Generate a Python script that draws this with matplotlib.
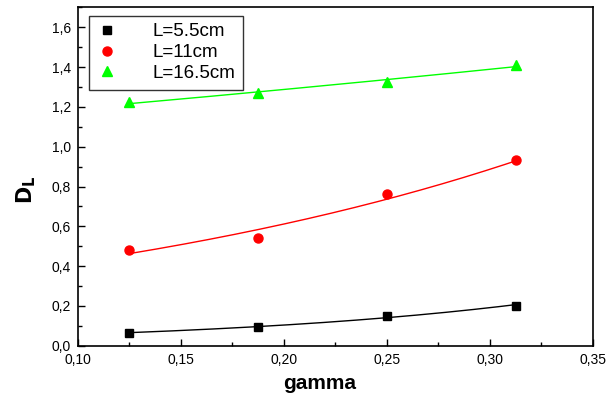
import numpy as np
import matplotlib
matplotlib.use("Agg")
import matplotlib.pyplot as plt
from matplotlib.ticker import FuncFormatter, MultipleLocator

plt.rcParams['font.family'] = ['Liberation Sans', 'DejaVu Sans']

gamma = [0.125, 0.1875, 0.25, 0.3125]
d_55 = [0.066, 0.092, 0.151, 0.200]
d_11 = [0.481, 0.542, 0.762, 0.931]
d_165 = [1.223, 1.272, 1.325, 1.413]

labels = ["L=5.5cm", "L=11cm", "L=16.5cm"]
colors = ["#000000", "#ff0000", "#00ff00"]
markers = ["s", "o", "^"]
msizes = [5.5, 6.5, 7]

fig = plt.figure(figsize=(6.06, 3.94), dpi=100)
ax = fig.add_axes([0.1287, 0.1226, 0.8498, 0.8584])

xg = np.array(gamma)
xf = np.linspace(xg.min(), xg.max(), 200)
for ys, lab, c, m, ms in zip([d_55, d_11, d_165], labels, colors, markers, msizes):
    ya = np.array(ys)
    # exponential fit y = a * exp(b x)
    b, lna = np.polyfit(xg, np.log(ya), 1)
    ax.plot(xf, np.exp(lna) * np.exp(b * xf), color=c, lw=1.0, zorder=2)
    ax.plot(xg, ya, linestyle='none', marker=m, color=c, ms=ms,
            label=lab, zorder=3)

ax.set_xlim(0.10, 0.35)
ax.set_ylim(0.0, 1.7)
ax.xaxis.set_major_locator(MultipleLocator(0.05))
ax.xaxis.set_minor_locator(MultipleLocator(0.025))
ax.yaxis.set_major_locator(MultipleLocator(0.2))
ax.yaxis.set_minor_locator(MultipleLocator(0.1))
ax.xaxis.set_major_formatter(FuncFormatter(lambda v, p: f"{v:.2f}".replace('.', ',')))
ax.yaxis.set_major_formatter(FuncFormatter(lambda v, p: f"{v:.1f}".replace('.', ',')))

ax.tick_params(which='both', direction='in', top=False, right=False,
               labelsize=10, width=1.0)
ax.tick_params(which='major', length=5, pad=5)
ax.tick_params(which='minor', length=3)
for s in ax.spines.values():
    s.set_linewidth(1.2)

ax.set_xlabel("gamma", fontsize=15, fontweight='bold')
ax.xaxis.set_label_coords(0.47, -0.085)
ax.set_ylabel(r"$\mathbf{D}_{\mathbf{L}}$", fontsize=15)
ax.yaxis.set_label_coords(-0.078, 0.46)

leg = ax.legend(loc='upper left', bbox_to_anchor=(0.0135, 0.987),
                fontsize=13.5, frameon=True, fancybox=False,
                edgecolor='black', handlelength=1.2, handletextpad=1.8,
                borderpad=0.4, labelspacing=0.2, borderaxespad=0.2)
leg.get_frame().set_linewidth(1.0)

fig.savefig("out.png", dpi=100)
